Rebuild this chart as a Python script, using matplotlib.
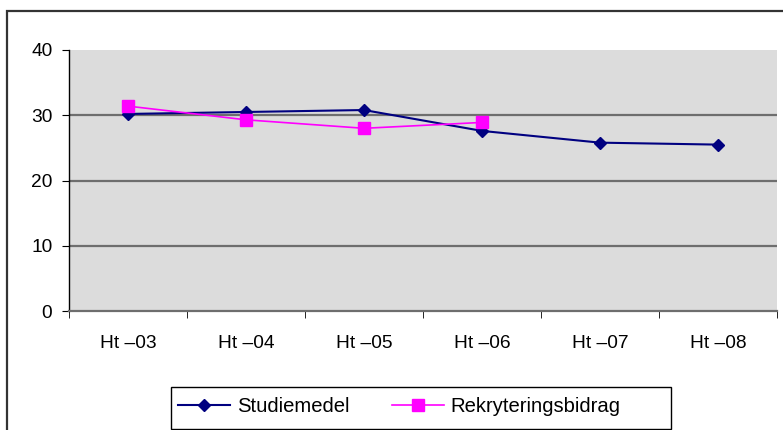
import matplotlib
matplotlib.use("Agg")
import matplotlib.pyplot as plt
from matplotlib.patches import Rectangle
import numpy as np

categories = ["Ht \u201303", "Ht \u201304", "Ht \u201305", "Ht \u201306", "Ht \u201307", "Ht \u201308"]
studiemedel = [30.2, 30.5, 30.8, 27.6, 25.8, 25.5]
rekryteringsbidrag = [31.4, 29.3, 28.0, 28.9]

plt.rcParams['font.family'] = ['Liberation Sans', 'DejaVu Sans']
FS = 13.8
LFS = 14.6

fig = plt.figure(figsize=(7.83, 4.30), dpi=100)
W, H = 783, 430

# outer chart frame
fig.patches.append(Rectangle((7.5 / W, -0.1), 1.2, 1 - 11 / H + 0.1, transform=fig.transFigure,
                             fill=False, edgecolor='#333333', linewidth=1.6))

ax = fig.add_axes([69 / W, 1 - 311 / H, (777 - 69) / W, (311 - 50) / H])
ax.set_facecolor('#DCDCDC')

x1 = np.arange(len(studiemedel))
x2 = np.arange(len(rekryteringsbidrag))
ax.plot(x1, studiemedel, color='#000080', marker='D', markersize=6.5, linewidth=1.5,
        label='Studiemedel', zorder=3)
ax.plot(x2, rekryteringsbidrag, color='#FF00FF', marker='s', markersize=8, linewidth=1.2,
        label='Rekryteringsbidrag', zorder=4)

ax.set_xlim(-0.5, len(categories) - 0.5)
ax.set_ylim(0, 40)
ax.set_yticks([0, 10, 20, 30, 40])
ax.set_xticks(np.arange(len(categories)))
ax.set_xticklabels(categories)
ax.set_xticks(np.arange(-0.5, len(categories)), minor=True)
ax.tick_params(axis='x', which='major', length=0, pad=17, labelsize=FS)
ax.tick_params(axis='x', which='minor', length=5, direction='out', color='black')
ax.tick_params(axis='y', length=5, direction='out', pad=7, labelsize=FS)

for v in [10, 20, 30]:
    ax.axhline(v, color='#6E6E6E', linewidth=1.6, zorder=1)

for s in ['top', 'right']:
    ax.spines[s].set_visible(False)
ax.spines['left'].set_color('black')
ax.spines['left'].set_linewidth(1.0)
ax.spines['bottom'].set_color('#6E6E6E')
ax.spines['bottom'].set_linewidth(1.6)

# legend frame
fig.patches.append(Rectangle((171 / W, 1 - 429 / H), (671 - 171) / W, (429 - 387) / H,
                             transform=fig.transFigure, fill=False, edgecolor='black',
                             linewidth=1.0))
leg = fig.legend(loc='center left', bbox_to_anchor=(178 / W, 1 - 407 / H),
                 ncol=2, frameon=False, fontsize=LFS, borderpad=0, borderaxespad=0,
                 handlelength=2.55, handletextpad=0.35, columnspacing=2.1)

fig.savefig('out.png', dpi=100)
